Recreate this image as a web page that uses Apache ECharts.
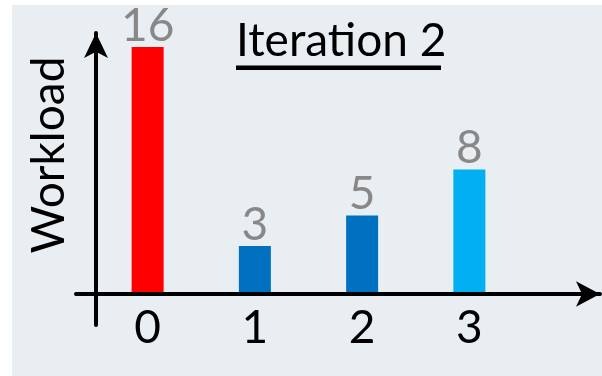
<!DOCTYPE html>
<html>
<head>
<meta charset="utf-8">
<script src="https://cdn.jsdelivr.net/npm/echarts@6/dist/echarts.min.js"></script>
<style>
  html, body { margin: 0; padding: 0; background: #fff; }
  #chart { width: 602px; height: 376px; }
</style>
</head>
<body>
<div id="chart"></div>
<script>
// Workload per process after the second iteration
const categories = ['0', '1', '2', '3'];
const workload = [16, 3, 5, 8];
const barColors = ['#ff0000', '#0070c0', '#0070c0', '#00b0f0'];
const titleText = 'Iteration 2';
const axisName = 'Workload';

const font = 'Lato, "Noto Sans", sans-serif';

const chart = echarts.init(document.getElementById('chart'), null, { renderer: 'canvas' });

chart.setOption({
  backgroundColor: '#ffffff',
  animation: false,
  title: {
    text: titleText,
    left: 236,
    top: 18,
    padding: 0,
    textStyle: { fontFamily: font, fontSize: 46, fontWeight: 'normal', color: '#000' }
  },
  graphic: [
    { type: 'rect', z: -10, silent: true, shape: { x: 12, y: 5, width: 590, height: 371 }, style: { fill: '#e9eef3' } },
    { type: 'rect', silent: true, shape: { x: 236, y: 65.5, width: 205, height: 4.5 }, style: { fill: '#000' } },
    {
      type: 'text', silent: true, x: 49, y: 155, rotation: Math.PI / 2,
      style: { text: axisName, font: '46px ' + font, fill: '#000', align: 'center', verticalAlign: 'middle' }
    }
  ],
  grid: [
    // bars
    { left: 94, right: 79, top: 47, bottom: 84 },
    // arrowed axes
    { left: 76, right: 2, top: 33, bottom: 51 }
  ],
  xAxis: [
    {
      gridIndex: 0, type: 'category', data: categories,
      axisLine: { show: false }, axisTick: { show: false },
      axisLabel: { color: '#000', fontFamily: font, fontSize: 46, margin: 13 }
    },
    {
      gridIndex: 1, type: 'value', min: -20, max: 504,
      axisLine: { show: true, onZero: true, symbol: ['none', 'arrow'], symbolSize: [19, 24],
                  lineStyle: { color: '#000', width: 4 } },
      axisTick: { show: false }, axisLabel: { show: false }, splitLine: { show: false }
    }
  ],
  yAxis: [
    { gridIndex: 0, type: 'value', min: 0, max: 16, show: false },
    {
      gridIndex: 1, type: 'value', min: -31, max: 261,
      axisLine: { show: true, onZero: true, symbol: ['none', 'arrow'], symbolSize: [18, 25],
                  lineStyle: { color: '#000', width: 4 } },
      axisTick: { show: false }, axisLabel: { show: false }, splitLine: { show: false }
    }
  ],
  series: [
    {
      type: 'bar', xAxisIndex: 0, yAxisIndex: 0, barWidth: 32,
      data: workload.map((v, i) => ({ value: v, itemStyle: { color: barColors[i] } })),
      label: {
        show: true, position: 'top', distance: -2,
        color: '#888888', fontFamily: font, fontSize: 46
      }
    }
  ]
});
</script>
</body>
</html>
